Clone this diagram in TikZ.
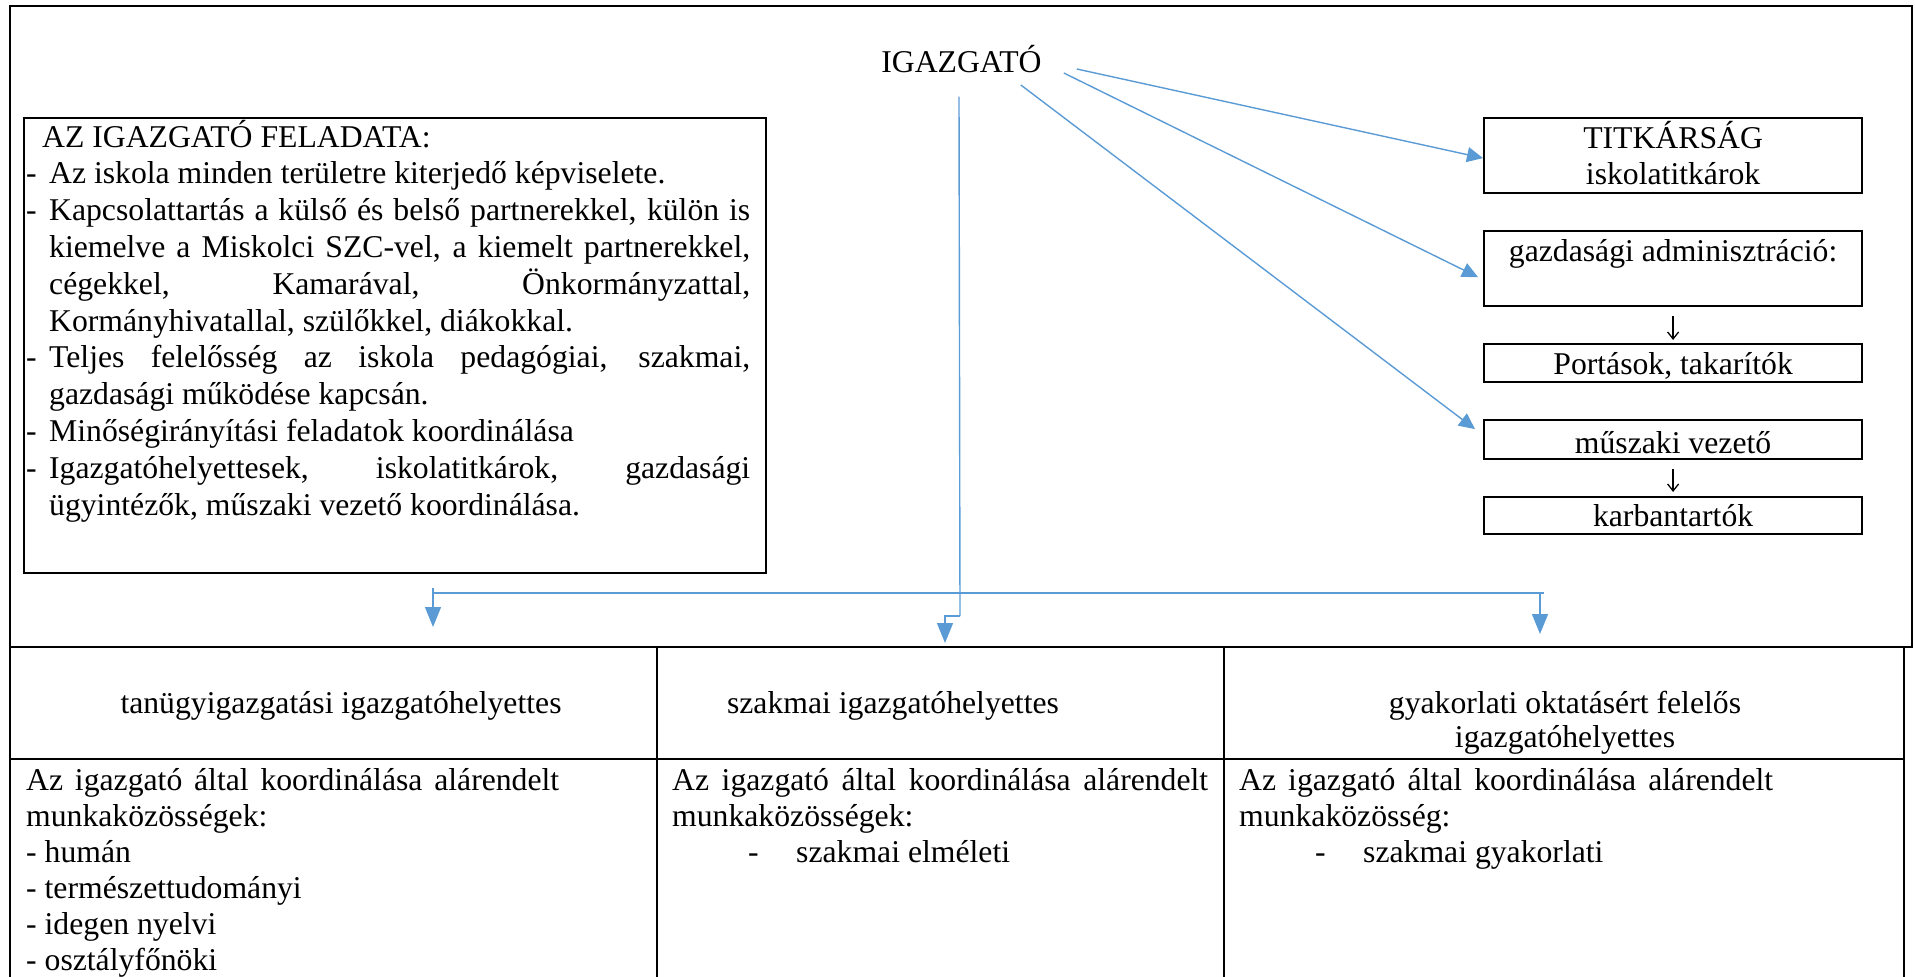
\documentclass[tikz,border=0pt]{standalone}
\usepackage{fontspec}
\setmainfont{Liberation Serif}
\usetikzlibrary{arrows.meta,calc}
\definecolor{arrblue}{HTML}{5B9BD5}
\newcommand\dashn[1]{\hbox{\makebox[23pt][l]{-}#1}}
\newcommand\dashj[1]{\hbox{\makebox[23pt][l]{-}\makebox[701pt][s]{#1}}}
\newcommand\contn[1]{\hbox{\hspace*{23pt}#1}}
\newcommand\contj[1]{\hbox{\hspace*{23pt}\makebox[701pt][s]{#1}}}
\begin{document}
\begin{tikzpicture}[x=1pt,y=-1pt,
  txt/.style={font=\fontsize{31.7}{36.8}\selectfont, inner sep=0pt},
  rbox/.style={draw, line width=2.2pt, minimum width=378pt, inner sep=0pt,
    anchor=north west, font=\fontsize{31.7}{36}\selectfont},
  bl/.style={draw=arrblue, line width=1.4pt},
  diag/.style={bl, -{Triangle[length=16pt,width=15pt]}},
  downarr/.style={bl, -{Triangle[length=20pt,width=16pt]}},
  smallarr/.style={draw=black, line width=1.3pt, -{Straight Barb[length=7pt,width=11pt]}},
  frame/.style={line width=2.5pt}
]
\useasboundingbox (0,0) rectangle (1915,977);

% outer frame and table
\draw[frame] (10,6) rectangle (1912,647);
\draw[frame] (10,647) -- (10,990);
\draw[frame] (657,647) -- (657,990);
\draw[frame] (1224,647) -- (1224,990);
\draw[frame] (1904,647) -- (1904,990);
\draw[frame] (10,759) -- (1904,759);

% director
\node[txt, anchor=base] (ig) at (961.5,72) {IGAZGATÓ};

% tasks box
\node[draw, line width=2.2pt, anchor=north west, inner sep=0pt,
  minimum width=742pt, minimum height=455pt] (felbox) at (23,117) {};
\node[txt, anchor=base west] (feltext) at (26,147) {\parbox[t]{740pt}{\fontsize{31.7}{36.8}\selectfont
  \hbox{\hspace*{16pt}AZ IGAZGATÓ FELADATA:}
  \dashn{Az iskola minden területre kiterjedő képviselete.}
  \dashj{Kapcsolattartás a külső és belső partnerekkel, külön is}
  \contj{kiemelve a Miskolci SZC-vel, a kiemelt partnerekkel,}
  \contj{cégekkel, Kamarával, Önkormányzattal,}
  \contn{Kormányhivatallal, szülőkkel, diákokkal.}
  \dashj{Teljes felelősség az iskola pedagógiai, szakmai,}
  \contn{gazdasági működése kapcsán.}
  \dashn{Minőségirányítási feladatok koordinálása}
  \dashj{Igazgatóhelyettesek, iskolatitkárok, gazdasági}
  \contn{ügyintézők, műszaki vezető koordinálása.}}};

% right boxes
\node[rbox, text height=30pt, text depth=45pt, minimum height=75pt] (tit) at (1483,117)
  {\begin{tabular}[t]{@{}c@{}}TITKÁRSÁG\\iskolatitkárok\end{tabular}};
\node[rbox, text height=30pt, text depth=45pt, minimum height=75pt] (gazd) at (1483,230)
  {gazdasági adminisztráció:};
\node[rbox, text height=30pt, text depth=8pt, minimum height=38pt] (port) at (1483,343)
  {Portások, takarítók};
\node[rbox, text height=33pt, text depth=6pt, minimum height=39pt] (musz) at (1483,419)
  {műszaki vezető};
\node[rbox, text height=29pt, text depth=8pt, minimum height=37pt] (karb) at (1483,496)
  {karbantartók};

\draw[smallarr, shorten <=9pt, shorten >=3pt] (gazd.south) -- (port.north);
\draw[smallarr, shorten <=9pt, shorten >=4pt] (musz.south) -- (karb.north);

% diagonal connectors
\coordinate (s1) at ($(ig.base east)+(35,-3)$);
\coordinate (s2) at ($(ig.base east)+(22,1)$);
\coordinate (s3) at ($(ig.base east)+(-21,13)$);
\coordinate (t1) at ($(tit.west)+(0,2.5)$);
\coordinate (t2) at ($(gazd.west)+(-5,8.5)$);
\coordinate (t3) at ($(musz.west)+(-8,-10.5)$);
\draw[diag] (s1) -- (t1);
\draw[diag] (s2) -- (t2);
\draw[diag] (s3) -- (t3);

% table headers
\node[txt, anchor=base] (h1) at (341,713) {tanügyigazgatási igazgatóhelyettes};
\node[txt, anchor=base] (h2) at (893,713) {szakmai igazgatóhelyettes};
\node[txt, anchor=base, font=\fontsize{31.7}{34}\selectfont] (h3) at (1565,713)
  {\begin{tabular}[t]{@{}c@{}}gyakorlati oktatásért felelős\\igazgatóhelyettes\end{tabular}};

% vertical and distribution connectors
\coordinate (vtop) at ($(ig.south)+(-2.5,24)$);
\coordinate (vbot) at (960,616);
\coordinate (vjog) at (945,616);
\coordinate (tM) at (945,643);
\coordinate (busL) at (433,593);
\coordinate (busR) at (1544,593);
\coordinate (lTop) at (433,588);
\coordinate (tL) at (433,627);
\coordinate (rTop) at (1540,593);
\coordinate (tR) at (1540,634);
\draw[bl] (vtop) -- (vbot);
\draw[downarr] (vbot) -- (vjog) -- (tM);
\draw[bl] (busL) -- (busR);
\draw[downarr] (lTop) -- (tL);
\draw[downarr] (rTop) -- (tR);

% table body
\node[txt, anchor=base west] (c1) at (26,790) {\parbox[t]{600pt}{\fontsize{31.7}{36}\selectfont
  \hbox{\makebox[533pt][s]{Az igazgató által koordinálása alárendelt}}
  \hbox{munkaközösségek:}
  \hbox{- humán}
  \hbox{- természettudományi}
  \hbox{- idegen nyelvi}
  \hbox{- osztályfőnöki}}};
\node[txt, anchor=base west] (c2) at (672,790) {\parbox[t]{560pt}{\fontsize{31.7}{36}\selectfont
  \hbox{\makebox[536pt][s]{Az igazgató által koordinálása alárendelt}}
  \hbox{munkaközösségek:}
  \hbox{\hspace*{76pt}\makebox[48pt][l]{-}szakmai elméleti}}};
\node[txt, anchor=base west] (c3) at (1239,790) {\parbox[t]{600pt}{\fontsize{31.7}{36}\selectfont
  \hbox{\makebox[534pt][s]{Az igazgató által koordinálása alárendelt}}
  \hbox{munkaközösség:}
  \hbox{\hspace*{76pt}\makebox[48pt][l]{-}szakmai gyakorlati}}};
\end{tikzpicture}
\end{document}
